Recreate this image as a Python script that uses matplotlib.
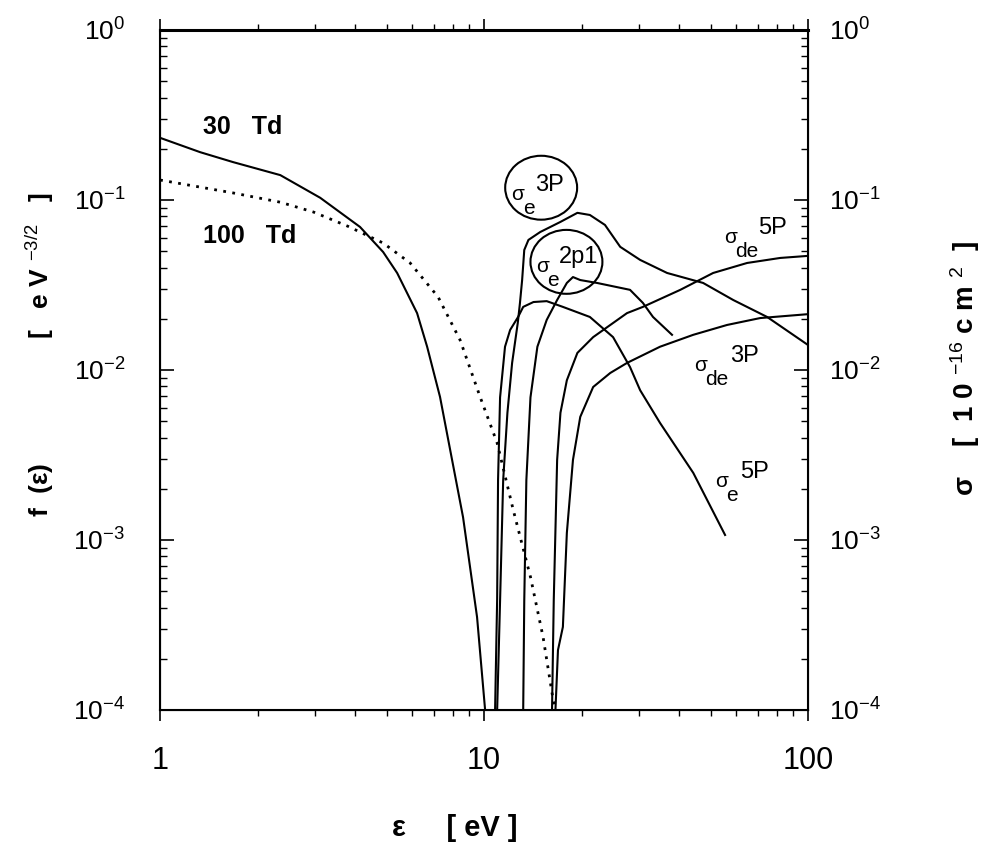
import numpy as np
import matplotlib.pyplot as plt
from matplotlib.patches import Ellipse
from matplotlib.ticker import FuncFormatter, LogLocator, NullFormatter

plt.rcParams['font.family'] = ['Liberation Sans', 'DejaVu Sans']
plt.rcParams['mathtext.fontset'] = 'custom'
plt.rcParams['mathtext.rm'] = 'Liberation Sans'
plt.rcParams['mathtext.it'] = 'Liberation Sans:italic'
plt.rcParams['mathtext.bf'] = 'Liberation Sans:bold'

# electron distribution functions f(eps) [eV^-3/2]
eps_30 = [1.0, 1.33, 1.68, 2.35, 3.12, 4.14, 4.88, 5.39, 6.21, 6.67, 7.31, 8.61, 9.51, 10.07]
f_30 = [0.232, 0.191, 0.167, 0.140, 0.103, 0.0694, 0.0494, 0.0372, 0.0216, 0.0137,
        0.00694, 0.00136, 3.52e-4, 1.0e-4]

eps_100 = [1.0, 1.33, 1.68, 2.35, 2.97, 3.8, 4.88, 5.91, 7.21, 8.43, 9.72, 10.97,
           12.3, 13.9, 15.2, 16.2, 16.56]
f_100 = [0.131, 0.119, 0.110, 0.097, 0.085, 0.070, 0.0558, 0.0426, 0.0269, 0.0150,
         0.00694, 0.00372, 0.0015, 6.06e-4, 2.69e-4, 1.26e-4, 1.0e-4]

# cross sections [1e-16 cm^2]
eps_e5P = [10.81, 10.97, 11.04, 11.2, 11.6, 12.03, 12.73, 13.2, 14.2, 15.6, 17.5, 21.2,
           25.0, 28.2, 30.3, 34.9, 44.2, 55.4]
sig_e5P = [1e-4, 4.5e-4, 2.25e-3, 6.9e-3, 0.0137, 0.0172, 0.0205, 0.0235, 0.0251, 0.0254,
           0.0235, 0.0205, 0.0156, 0.0104, 0.0076, 0.00488, 0.00248, 0.00107]

eps_e3P = [10.97, 11.2, 11.45, 11.8, 12.2, 12.7, 12.9, 13.1, 13.3, 13.7, 14.9, 17.2, 19.4,
           21.2, 23.6, 26.3, 30.3, 36.7, 47.4, 58.7, 74.7, 100.0]
sig_e3P = [1e-4, 4.4e-4, 2.25e-3, 5.6e-3, 0.011, 0.0189, 0.0248, 0.0338, 0.0508, 0.0582,
           0.0648, 0.0743, 0.084, 0.0816, 0.0713, 0.053, 0.0444, 0.0372, 0.0325, 0.0258,
           0.0205, 0.0140]

eps_e2p1 = [13.2, 13.3, 13.5, 13.9, 14.6, 15.6, 16.8, 18.0, 18.8, 19.8, 22.3, 28.2, 30.9,
            33.2, 38.0]
sig_e2p1 = [1e-4, 4.4e-4, 2.25e-3, 6.9e-3, 0.0137, 0.0197, 0.0258, 0.0325, 0.0352, 0.0338,
            0.0325, 0.0296, 0.0248, 0.0205, 0.0161]

eps_de5P = [16.2, 16.4, 16.8, 17.2, 18.0, 19.4, 21.7, 27.6, 30.9, 40.3, 50.9, 64.8, 82.0, 100.0]
sig_de5P = [1e-4, 4.4e-4, 2.96e-3, 5.6e-3, 8.7e-3, 0.0126, 0.0156, 0.0216, 0.0235, 0.0296,
            0.0372, 0.0426, 0.0456, 0.0469]

eps_de3P = [16.6, 16.9, 17.5, 18.0, 18.8, 19.8, 21.7, 24.5, 27.6, 34.9, 44.2, 56.2, 71.1, 100.0]
sig_de3P = [1e-4, 2.25e-4, 3.08e-4, 1.1e-3, 2.96e-3, 5.3e-3, 7.94e-3, 9.6e-3, 0.011, 0.0137,
            0.0161, 0.0184, 0.0202, 0.0213]


def pow10(v, pos):
    e = int(round(np.log10(v)))
    return r'$\mathregular{10^{%d}}$' % e


fig = plt.figure(figsize=(9.82, 8.44), dpi=100)
ax = fig.add_axes([0.163, 0.1588, 0.660, 0.8057])

ax.plot(eps_30, f_30, color='black', lw=1.5)
ax.plot(eps_100, f_100, color='black', lw=2.0, linestyle=(0, (1, 2.3)))

ax.set_xscale('log')
ax.set_yscale('log')
ax.set_xlim(1, 100)
ax.set_ylim(1e-4, 1)

ax.xaxis.set_major_formatter(FuncFormatter(lambda v, p: '%g' % v))
ax.xaxis.set_minor_formatter(NullFormatter())
ax.yaxis.set_major_formatter(FuncFormatter(pow10))
ax.yaxis.set_minor_locator(LogLocator(subs=np.arange(2, 10)))
ax.yaxis.set_minor_formatter(NullFormatter())

ax.tick_params(axis='x', which='both', direction='out', top=True, labelsize=22, pad=18)
ax.tick_params(axis='x', which='major', length=8, width=1.2)
ax.tick_params(axis='x', which='minor', length=4, width=1.0)
ax.tick_params(axis='y', which='both', direction='in', right=False, labelsize=19, pad=25)
ax.tick_params(axis='y', which='major', length=10, width=1.2)
ax.tick_params(axis='y', which='minor', length=5, width=1.0)
for s in ax.spines.values():
    s.set_linewidth(1.5)
ax.spines['top'].set_linewidth(2.2)

ax.set_xlabel('ε     [ eV ]', fontsize=21, fontweight='bold')
ax.xaxis.set_label_coords(0.455, -0.174)
ax.xaxis.label.set_va('center')
ax.set_ylabel('f  (ε)                 [   e V $^{-3 / 2}$   ]', fontsize=19,
              fontweight='bold')
ax.yaxis.set_label_coords(-0.185, 0.522)
ax.yaxis.label.set_va('center')

ax.text(0.127, 0.857, '30   Td', transform=ax.transAxes, ha='center', va='center',
        fontsize=18, fontweight='bold')
ax.text(0.139, 0.697, '100   Td', transform=ax.transAxes, ha='center', va='center',
        fontsize=18, fontweight='bold')

# right axis: cross sections
ax2 = ax.twinx()
ax2.set_yscale('log')
ax2.set_ylim(1e-4, 1)
ax2.plot(eps_e5P, sig_e5P, color='black', lw=1.5)
ax2.plot(eps_e3P, sig_e3P, color='black', lw=1.5)
ax2.plot(eps_e2p1, sig_e2p1, color='black', lw=1.5)
ax2.plot(eps_de5P, sig_de5P, color='black', lw=1.5)
ax2.plot(eps_de3P, sig_de3P, color='black', lw=1.5)
ax2.yaxis.set_major_formatter(FuncFormatter(pow10))
ax2.yaxis.set_minor_locator(LogLocator(subs=np.arange(2, 10)))
ax2.yaxis.set_minor_formatter(NullFormatter())
ax2.tick_params(axis='y', which='both', direction='in', labelsize=19, pad=15)
ax2.tick_params(axis='y', which='major', length=10, width=1.2)
ax2.tick_params(axis='y', which='minor', length=5, width=1.0)
ax2.set_ylabel('σ    [  1 0 $^{-16}$ c m $^{2}$  ]', fontsize=20, fontweight='bold',
               rotation=90)
ax2.yaxis.set_label_coords(1.242, 0.502)
ax2.yaxis.label.set_va('center')


def sig_label(x, y, sub, sup, dx_sub, dx_sup):
    ax2.annotate('σ', xy=(x, y), xycoords='axes fraction', fontsize=15,
                 ha='left', va='baseline')
    ax2.annotate(sub, xy=(x, y), xycoords='axes fraction', xytext=(dx_sub, -14),
                 textcoords='offset pixels', fontsize=15, ha='left', va='baseline')
    ax2.annotate(sup, xy=(x, y), xycoords='axes fraction', xytext=(dx_sup, 9),
                 textcoords='offset pixels', fontsize=17, ha='left', va='baseline')


sig_label(0.542, 0.750, 'e', '3P', 12, 24)
sig_label(0.580, 0.644, 'e', '2p1', 11, 23)
sig_label(0.870, 0.687, 'de', '5P', 11, 34)
sig_label(0.824, 0.4985, 'de', '3P', 11, 36)
sig_label(0.856, 0.328, 'e', '5P', 11, 25)

ax2.add_patch(Ellipse((0.588, 0.768), 0.111, 0.094, transform=ax2.transAxes,
                      fill=False, lw=1.5, color='black'))
ax2.add_patch(Ellipse((0.627, 0.659), 0.111, 0.094, transform=ax2.transAxes,
                      fill=False, lw=1.5, color='black'))

fig.savefig('out.png', dpi=100)
